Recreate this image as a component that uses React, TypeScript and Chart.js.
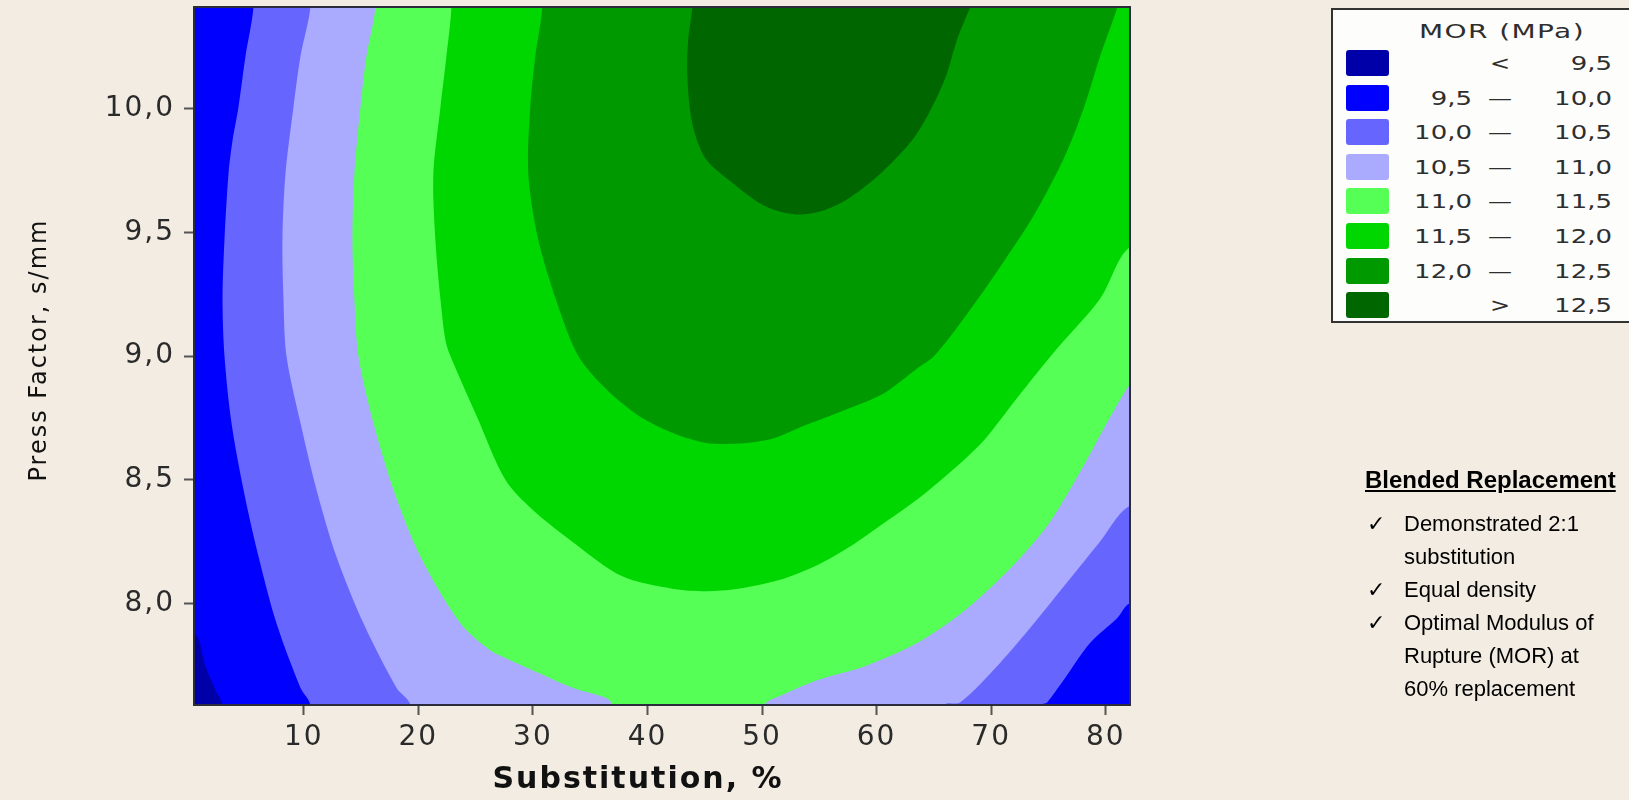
import React, { useEffect, useRef } from 'react';
import { Chart, registerables } from 'chart.js';

Chart.register(...registerables);

// ---------- axes ----------
const X_MIN = 0.42;
const X_MAX = 82.12;
const Y_MIN = 7.59;
const Y_MAX = 10.41;
const X_TICKS = [10, 20, 30, 40, 50, 60, 70, 80];
const Y_TICKS = [8.0, 8.5, 9.0, 9.5, 10.0];
const X_TITLE = 'Substitution, %';
const Y_TITLE = 'Press Factor, s/mm';

// ---------- contour levels (MOR, MPa) ----------
const BREAKS = [9.5, 10.0, 10.5, 11.0, 11.5, 12.0, 12.5];
const LEVEL_COLORS = ['#0000A8', '#0000FF', '#6666FF', '#AAAAFF', '#55FF55', '#00D700', '#009900', '#006600'];

// ---------- contour lines: [substitution %, press factor] ----------
const C95: number[][] = [[0.42, 7.88], [1.4, 7.75], [2.3, 7.65], [2.9, 7.59]];

const C100_LEFT: number[][] = [
  [5.61, 10.41], [4.91, 10.21], [4.3, 10.005], [3.78, 9.87], [3.43, 9.735], [3.08, 9.47],
  [2.91, 9.23], [3.08, 9.0], [3.69, 8.73], [4.74, 8.46], [6.05, 8.19], [7.62, 7.92],
  [9.71, 7.66], [10.58, 7.59],
];
const C100_RIGHT: number[][] = [
  [74.44, 7.59], [74.88, 7.6], [76.62, 7.71], [78.63, 7.84], [80.99, 7.94], [82.12, 8.0],
];

const C105_LEFT: number[][] = [
  [10.58, 10.41], [9.71, 10.21], [9.1, 10.005], [8.4, 9.735], [8.14, 9.47], [8.23, 9.23],
  [8.49, 9.0], [9.71, 8.73], [11.11, 8.46], [12.85, 8.19], [15.21, 7.92], [18.09, 7.66],
  [19.31, 7.59],
];
const C105_RIGHT: number[][] = [
  [65.98, 7.59], [67.29, 7.6], [70.78, 7.76], [73.74, 7.92], [76.62, 8.085], [79.5, 8.25], [82.12, 8.395],
];

const C110_LEFT: number[][] = [
  [16.26, 10.41], [15.47, 10.21], [14.95, 10.005], [14.42, 9.735], [14.25, 9.47], [14.42, 9.23],
  [14.77, 9.0], [16.08, 8.73], [17.83, 8.46], [20.18, 8.19], [23.67, 7.92], [26.29, 7.81],
  [27.6, 7.78], [30.47, 7.72], [33.44, 7.66], [36.32, 7.62], [36.93, 7.59],
];
const C110_RIGHT: number[][] = [
  [50.28, 7.59], [51.76, 7.63], [54.81, 7.69], [59.17, 7.75], [63.54, 7.84], [67.9, 7.98],
  [72.26, 8.17], [75.14, 8.33], [78.11, 8.56], [80.11, 8.73], [81.6, 8.85], [82.12, 8.88],
];

const C115: number[][] = [
  [22.89, 10.41], [22.45, 10.21], [21.93, 10.005], [21.31, 9.735], [21.49, 9.47], [21.93, 9.23],
  [22.36, 9.065], [22.8, 9.0], [25.07, 8.76], [27.6, 8.5], [29.95, 8.38], [33.44, 8.25],
  [37.8, 8.11], [42.16, 8.06], [45.04, 8.05], [47.92, 8.06], [51.5, 8.095], [54.81, 8.155],
  [57.69, 8.23], [60.65, 8.325], [63.54, 8.42], [66.41, 8.53], [69.38, 8.66], [72.26, 8.83],
  [75.57, 9.02], [79.5, 9.23], [82.12, 9.44],
];

const C120: number[][] = [
  [30.82, 10.41], [30.21, 10.21], [29.77, 10.005], [29.6, 9.735], [30.47, 9.47], [32.22, 9.2],
  [33.96, 9.0], [36.32, 8.87], [39.2, 8.76], [42.16, 8.69], [45.04, 8.65], [47.92, 8.646],
  [50.89, 8.666], [53.77, 8.72], [57.69, 8.79], [60.65, 8.85], [63.54, 8.95],
  [65.02, 9.0], [67.9, 9.17], [70.78, 9.36], [73.74, 9.57], [76.36, 9.8], [78.11, 10.005],
  [79.5, 10.21], [80.73, 10.37], [80.99, 10.41],
];

const C125: number[][] = [
  [43.91, 10.41], [43.56, 10.28], [43.47, 10.14], [43.91, 9.94], [45.04, 9.8], [47.4, 9.7],
  [50.28, 9.605], [53.0, 9.572], [55.5, 9.59], [57.69, 9.64], [60.65, 9.75], [63.54, 9.9],
  [65.89, 10.11], [67.03, 10.28], [67.9, 10.38], [68.16, 10.41],
];

// ---------- side text ----------
const NOTE_TITLE = 'Blended Replacement';
const NOTE_ITEMS = [
  ['Demonstrated 2:1', 'substitution'],
  ['Equal density'],
  ['Optimal Modulus of', 'Rupture (MOR) at', '60% replacement'],
];
const LEGEND_TITLE = 'MOR (MPa)';

const BG = '#F2ECE2';
const fmt = (v: number) => v.toFixed(1).replace('.', ',');

// region extents just outside the plot (clipped away by the chart area)
const XL = X_MIN - 4;
const XR = X_MAX + 4;
const YB = Y_MIN - 0.25;
const YT = Y_MAX + 0.25;
const close = (pts: number[][]) => [...pts, pts[0]];
const first = (c: number[][]) => c[0];
const last = (c: number[][]) => c[c.length - 1];

// superlevel regions (painted from lowest level upwards)
const REGIONS: number[][][] = [
  close([[XL, YB], [XR, YB], [XR, YT], [XL, YT]]),
  close([[XL, first(C95)[1]], ...C95, [last(C95)[0], YB], [XR, YB], [XR, YT], [XL, YT]]),
  close([[first(C100_LEFT)[0], YT], ...C100_LEFT, [last(C100_LEFT)[0], YB], [first(C100_RIGHT)[0], YB], ...C100_RIGHT, [XR, last(C100_RIGHT)[1]], [XR, YT]]),
  close([[first(C105_LEFT)[0], YT], ...C105_LEFT, [last(C105_LEFT)[0], YB], [first(C105_RIGHT)[0], YB], ...C105_RIGHT, [XR, last(C105_RIGHT)[1]], [XR, YT]]),
  close([[first(C110_LEFT)[0], YT], ...C110_LEFT, [last(C110_LEFT)[0], YB], [first(C110_RIGHT)[0], YB], ...C110_RIGHT, [XR, last(C110_RIGHT)[1]], [XR, YT]]),
  close([[first(C115)[0], YT], ...C115, [XR, last(C115)[1]], [XR, YT]]),
  close([[first(C120)[0], YT], ...C120, [last(C120)[0], YT]]),
  close([[first(C125)[0], YT], ...C125, [last(C125)[0], YT]]),
];

const LEVEL_LABELS = LEVEL_COLORS.map((_, i) =>
  i === 0 ? `< ${fmt(BREAKS[0])}` : i === LEVEL_COLORS.length - 1 ? `> ${fmt(BREAKS[BREAKS.length - 1])}` : `${fmt(BREAKS[i - 1])} – ${fmt(BREAKS[i])}`
);

const framePlugin = {
  id: 'frame',
  afterDatasetsDraw(chart: any) {
    const { ctx, chartArea: a } = chart;
    ctx.save();
    ctx.strokeStyle = '#2b2b3b';
    ctx.lineWidth = 2;
    ctx.strokeRect(a.left, a.top, a.right - a.left, a.bottom - a.top);
    ctx.restore();
  },
};

// nudges the axis-title anchor boxes to where the original titles sit
const titleOffsetPlugin = {
  id: 'titleOffset',
  afterLayout(chart: any) {
    const x = chart.scales.x;
    x.left -= 24;
    x.right -= 24;
    const y = chart.scales.y;
    y.top -= 6;
    y.bottom -= 6;
  },
};

const spacingPlugin = {
  id: 'textSpacing',
  beforeDraw(chart: any) {
    (chart.ctx as any).letterSpacing = '2px';
  },
  afterDraw(chart: any) {
    (chart.ctx as any).letterSpacing = '0px';
  },
};

export default function App() {
  const ref = useRef<HTMLCanvasElement>(null);

  useEffect(() => {
    if (!ref.current) return;
    const datasets = REGIONS.map((pts, i) => ({
      label: LEVEL_LABELS[i],
      data: pts.map(([x, y]) => ({ x, y })),
      fill: 'shape',
      backgroundColor: LEVEL_COLORS[i],
      borderColor: 'rgba(0,0,0,0)',
      borderWidth: 0,
      pointRadius: 0,
      tension: i === 0 ? 0 : 0.3,
      capBezierPoints: false,
      clip: 0,
      order: REGIONS.length - i,
    }));
    const chart = new Chart(ref.current, {
      type: 'line',
      data: { datasets } as any,
      options: {
        responsive: false,
        animation: false,
        events: [],
        layout: { padding: { top: 7, right: 499, left: 0, bottom: 0 } },
        plugins: { legend: { display: false }, tooltip: { enabled: false } },
        scales: {
          x: {
            type: 'linear',
            min: X_MIN,
            max: X_MAX,
            afterBuildTicks: (s: any) => {
              s.ticks = X_TICKS.map((v) => ({ value: v }));
            },
            afterFit: (s: any) => {
              s.height = 95;
              s.paddingLeft = 0;
              s.paddingRight = 0;
            },
            ticks: {
              callback: (v: any) => String(v),
              font: { family: 'DejaVu Sans', size: 28 },
              color: '#2a2a2a',
              padding: 6,
              maxRotation: 0,
            },
            grid: { display: true, drawOnChartArea: false, drawTicks: true, tickLength: 10, tickColor: '#555555', tickWidth: 2 },
            border: { display: false },
            title: {
              display: true,
              text: X_TITLE,
              font: { family: 'DejaVu Sans', size: 30, weight: 'bold' },
              color: '#111111',
              padding: { top: 0, bottom: 2 },
            },
          },
          y: {
            type: 'linear',
            min: Y_MIN,
            max: Y_MAX,
            afterBuildTicks: (s: any) => {
              s.ticks = Y_TICKS.map((v) => ({ value: v }));
            },
            afterFit: (s: any) => {
              s.width = 194;
              s.paddingTop = 0;
              s.paddingBottom = 0;
            },
            ticks: {
              callback: (v: any) => fmt(Number(v)),
              font: { family: 'DejaVu Sans', size: 28 },
              color: '#2a2a2a',
              padding: 9,
            },
            grid: { display: true, drawOnChartArea: false, drawTicks: true, tickLength: 10, tickColor: '#555555', tickWidth: 2 },
            border: { display: false },
            title: {
              display: true,
              text: Y_TITLE,
              font: { family: 'DejaVu Sans', size: 24 },
              color: '#111111',
              padding: { top: 25, bottom: 0 },
            },
          },
        },
      } as any,
      plugins: [framePlugin, titleOffsetPlugin, spacingPlugin],
    });
    return () => chart.destroy();
  }, []);

  const rowCenters = LEVEL_COLORS.map((_, i) => 63 + i * 34.6);
  const legendFont: React.CSSProperties = {
    position: 'absolute',
    fontFamily: 'DejaVu Sans, sans-serif',
    fontSize: 20,
    color: '#2e2e2e',
    height: 34,
    lineHeight: '34px',
    whiteSpace: 'nowrap',
  };

  return (
    <div style={{ position: 'fixed', left: 0, top: 0, width: 1629, height: 800, background: BG, overflow: 'hidden' }}>
      <canvas ref={ref} width={1629} height={800} style={{ position: 'absolute', left: 0, top: 0, width: 1629, height: 800 }} />

      {/* contour legend */}
      <div style={{ position: 'absolute', left: 1331, top: 8, width: 310, height: 315, boxSizing: 'border-box', border: '2px solid #333', background: '#FDFDFB' }} />
      <div style={{ ...legendFont, left: 1402, top: 14, width: 200, textAlign: 'center', letterSpacing: '1px', transform: 'scaleX(1.4)', transformOrigin: '50% 50%' }}>{LEGEND_TITLE}</div>
      {LEVEL_COLORS.map((c, i) => {
        const cy = rowCenters[i];
        const low = i === 0 || i === LEVEL_COLORS.length - 1 ? '' : fmt(BREAKS[i - 1]);
        const sym = i === 0 ? '<' : i === LEVEL_COLORS.length - 1 ? '>' : '—';
        const high = i === LEVEL_COLORS.length - 1 ? fmt(BREAKS[BREAKS.length - 1]) : fmt(BREAKS[i]);
        const stretch: React.CSSProperties = { transform: 'scaleX(1.3)', transformOrigin: '100% 50%' };
        return (
          <React.Fragment key={i}>
            <div style={{ position: 'absolute', left: 1346, top: cy - 13, width: 43, height: 26, background: c, borderRadius: 3 }} />
            <div style={{ ...legendFont, ...stretch, left: 1392, top: cy - 17, width: 80, textAlign: 'right' }}>{low}</div>
            <div style={{ ...legendFont, left: 1485, top: cy - 17, width: 30, textAlign: 'center', transform: 'scaleX(1.2)' }}>{sym}</div>
            <div style={{ ...legendFont, ...stretch, left: 1532, top: cy - 17, width: 80, textAlign: 'right' }}>{high}</div>
          </React.Fragment>
        );
      })}

      {/* notes */}
      <div style={{ position: 'absolute', left: 1365, top: 463, fontFamily: 'Liberation Sans, Arial, sans-serif', color: '#000', whiteSpace: 'nowrap' }}>
        <div style={{ fontSize: 24, fontWeight: 'bold', textDecoration: 'underline', lineHeight: '33px', height: 44 }}>{NOTE_TITLE}</div>
        {NOTE_ITEMS.map((lines, i) => (
          <div key={i} style={{ position: 'relative', fontSize: 22, lineHeight: '33px', paddingLeft: 39 }}>
            <span style={{ position: 'absolute', left: 2, top: 0, fontFamily: 'DejaVu Sans, sans-serif', fontSize: 22 }}>✓</span>
            {lines.map((l, j) => (
              <div key={j}>{l}</div>
            ))}
          </div>
        ))}
      </div>
    </div>
  );
}
